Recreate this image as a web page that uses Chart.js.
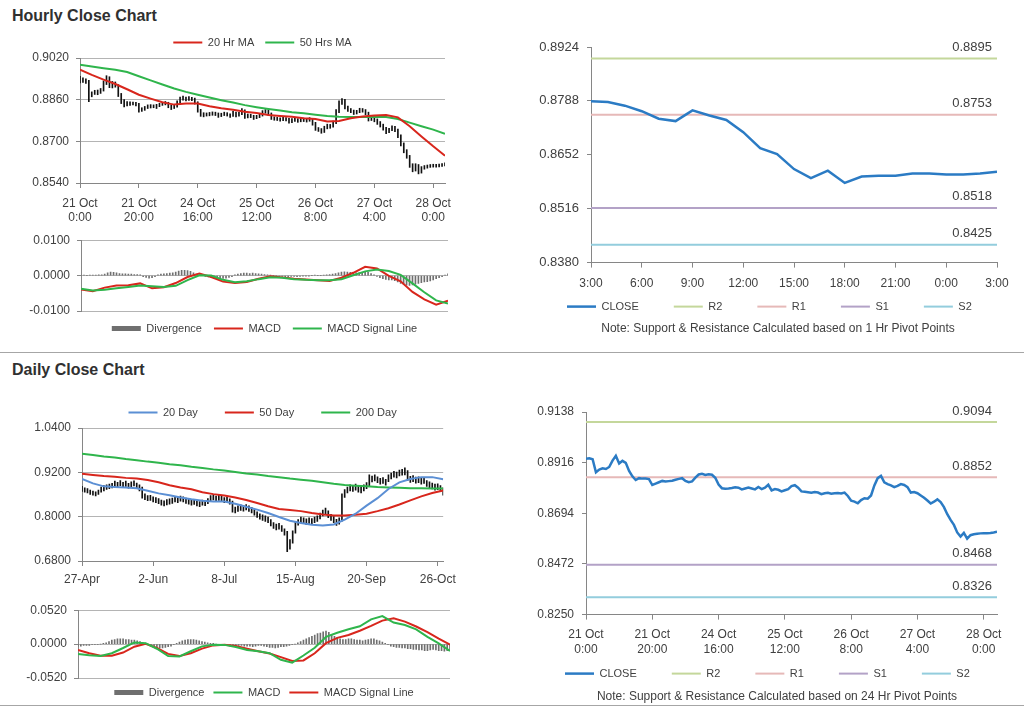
<!DOCTYPE html>
<html>
<head>
<meta charset="utf-8">
<script src="https://cdn.jsdelivr.net/npm/chart.js@4.4.0/dist/chart.umd.min.js"></script>
<style>
  html, body { margin: 0; padding: 0; background: #fff; }
  body { width: 1024px; height: 708px; position: relative; overflow: hidden; font-family: 'Liberation Sans', Arial, sans-serif; }
  .title { position: absolute; left: 12px; font-size: 16px; font-weight: bold; color: #303030; line-height: 20px; }
  .rule { position: absolute; left: 0; width: 1024px; height: 0; border-top: 1px solid #a6a6a6; }
  .panel { position: absolute; }
</style>
</head>
<body>
<div class="title" style="top:6px">Hourly Close Chart</div>
<div class="rule" style="top:352px"></div>
<div class="title" style="top:360px">Daily Close Chart</div>
<div class="rule" style="top:705px"></div>

<div class="panel" style="left:0;top:26px;width:462px;height:200px"><canvas id="hourlyPrice"></canvas></div>
<div class="panel" style="left:0;top:226px;width:462px;height:118px"><canvas id="hourlyMacd"></canvas></div>
<div class="panel" style="left:500px;top:30px;width:524px;height:333px"><canvas id="hourPivot"></canvas></div>
<div class="panel" style="left:0;top:380px;width:462px;height:209px"><canvas id="dailyPrice"></canvas></div>
<div class="panel" style="left:0;top:596px;width:462px;height:112px"><canvas id="dailyMacd"></canvas></div>
<div class="panel" style="left:500px;top:395px;width:524px;height:334px"><canvas id="dayPivot"></canvas></div>

<script>
// ---------- hourly data (21 Oct 0:00 .. 28 Oct 4:00) ----------
const hourlyTickIdx = [0, 20, 40, 60, 80, 100, 120];
const hourlyTickLabels = [['21 Oct', '0:00'], ['21 Oct', '20:00'], ['24 Oct', '16:00'], ['25 Oct', '12:00'],
  ['26 Oct', '8:00'], ['27 Oct', '4:00'], ['28 Oct', '0:00']];

const hourlyClose = [
  0.8933, 0.8935, 0.8931, 0.8874, 0.8886, 0.8891, 0.8888, 0.8897, 0.8925, 0.8946,
  0.8912, 0.8924, 0.8915, 0.8880, 0.8856, 0.8840, 0.8848, 0.8846, 0.8846, 0.8844,
  0.8818, 0.8824, 0.8830, 0.8836, 0.8833, 0.8835, 0.8837, 0.8841, 0.8845, 0.8848,
  0.8836, 0.8830, 0.8834, 0.8850, 0.8864, 0.8867, 0.8862, 0.8865, 0.8863, 0.8850,
  0.8820, 0.8804, 0.8802, 0.8803, 0.8805, 0.8808, 0.8806, 0.8799, 0.8803, 0.8807,
  0.8803, 0.8799, 0.8809, 0.8800, 0.8806, 0.8819, 0.8794, 0.8800, 0.8797, 0.8790,
  0.8795, 0.8800, 0.8813, 0.8817, 0.8806, 0.8790, 0.8788, 0.8786, 0.8784, 0.8787,
  0.8785, 0.8778, 0.8782, 0.8784, 0.8780, 0.8782, 0.8783, 0.8781, 0.8785, 0.8770,
  0.8749, 0.8745, 0.8738, 0.8752, 0.8760, 0.8758, 0.8772, 0.8816, 0.8848, 0.8858,
  0.8830, 0.8822, 0.8816, 0.8809, 0.8814, 0.8822, 0.8818, 0.8809, 0.8785, 0.8787,
  0.8782, 0.8772, 0.8762, 0.8750, 0.8737, 0.8745, 0.8755, 0.8743, 0.8721, 0.8690,
  0.8665, 0.8643, 0.8610, 0.8592, 0.8608, 0.8583, 0.8598, 0.8602, 0.8604, 0.8606,
  0.8607, 0.8607, 0.8608, 0.8610, 0.8613
];
const hourlyLow = [
  0.8924, 0.8926, 0.8922, 0.8852, 0.8871, 0.8880, 0.8879, 0.8884, 0.8893, 0.8918,
  0.8906, 0.8905, 0.8908, 0.8872, 0.8845, 0.8832, 0.8836, 0.8838, 0.8840, 0.8836,
  0.8812, 0.8815, 0.8819, 0.8826, 0.8828, 0.8829, 0.8826, 0.8833, 0.8838, 0.8840,
  0.8829, 0.8822, 0.8826, 0.8831, 0.8847, 0.8858, 0.8855, 0.8857, 0.8856, 0.8843,
  0.8812, 0.8796, 0.8794, 0.8797, 0.8798, 0.8800, 0.8799, 0.8792, 0.8795, 0.8799,
  0.8797, 0.8792, 0.8796, 0.8794, 0.8797, 0.8802, 0.8788, 0.8790, 0.8791, 0.8784,
  0.8787, 0.8791, 0.8797, 0.8808, 0.8800, 0.8784, 0.8781, 0.8780, 0.8777, 0.8779,
  0.8778, 0.8770, 0.8772, 0.8776, 0.8773, 0.8775, 0.8776, 0.8774, 0.8777, 0.8762,
  0.8742, 0.8738, 0.8731, 0.8734, 0.8748, 0.8750, 0.8754, 0.8768, 0.8810, 0.8842,
  0.8824, 0.8815, 0.8810, 0.8803, 0.8805, 0.8810, 0.8812, 0.8802, 0.8778, 0.8780,
  0.8775, 0.8765, 0.8755, 0.8743, 0.8729, 0.8733, 0.8741, 0.8737, 0.8714, 0.8682,
  0.8656, 0.8635, 0.8600, 0.8583, 0.8586, 0.8575, 0.8578, 0.8593, 0.8597, 0.8600,
  0.8601, 0.8601, 0.8602, 0.8604, 0.8606
];
const hourlyHigh = [
  0.8950, 0.8944, 0.8940, 0.8934, 0.8890, 0.8896, 0.8897, 0.8903, 0.8932, 0.8952,
  0.8948, 0.8930, 0.8928, 0.8918, 0.8884, 0.8860, 0.8853, 0.8852, 0.8851, 0.8850,
  0.8846, 0.8829, 0.8834, 0.8840, 0.8841, 0.8840, 0.8842, 0.8846, 0.8850, 0.8853,
  0.8850, 0.8839, 0.8840, 0.8856, 0.8870, 0.8874, 0.8870, 0.8872, 0.8869, 0.8866,
  0.8852, 0.8823, 0.8810, 0.8809, 0.8811, 0.8813, 0.8812, 0.8809, 0.8808, 0.8812,
  0.8810, 0.8806, 0.8815, 0.8812, 0.8811, 0.8826, 0.8821, 0.8805, 0.8804, 0.8800,
  0.8800, 0.8805, 0.8818, 0.8822, 0.8820, 0.8809, 0.8794, 0.8792, 0.8790, 0.8792,
  0.8791, 0.8788, 0.8787, 0.8789, 0.8787, 0.8788, 0.8789, 0.8787, 0.8791, 0.8788,
  0.8773, 0.8753, 0.8749, 0.8758, 0.8766, 0.8765, 0.8778, 0.8822, 0.8856, 0.8864,
  0.8861, 0.8835, 0.8826, 0.8820, 0.8819, 0.8827, 0.8826, 0.8822, 0.8812, 0.8793,
  0.8791, 0.8786, 0.8776, 0.8766, 0.8754, 0.8750, 0.8760, 0.8758, 0.8747, 0.8725,
  0.8694, 0.8668, 0.8646, 0.8614, 0.8614, 0.8611, 0.8603, 0.8607, 0.8609, 0.8611,
  0.8612, 0.8612, 0.8613, 0.8615, 0.8617
];

// lines below are read every LINE_STEP bars
const LINE_STEP = 4;
const hourlyMa20 = [0.8975, 0.8955, 0.8937, 0.8920, 0.8900, 0.8879, 0.8864, 0.8850, 0.8841, 0.8845, 0.8845,
  0.8835, 0.8827, 0.8821, 0.8814, 0.8809, 0.8801, 0.8797, 0.8794, 0.8789, 0.8786, 0.8776, 0.8778, 0.8789,
  0.8795, 0.8799, 0.8801, 0.8792, 0.8758, 0.8719, 0.8681, 0.8645];
const hourlyMa50 = [0.8994, 0.8987, 0.8981, 0.8975, 0.8966, 0.8950, 0.8934, 0.8918, 0.8903, 0.8890, 0.8879,
  0.8868, 0.8858, 0.8849, 0.8839, 0.8831, 0.8824, 0.8818, 0.8812, 0.8808, 0.8802, 0.8797, 0.8794, 0.8793,
  0.8793, 0.8793, 0.8793, 0.8786, 0.8772, 0.8758, 0.8745, 0.8729];
const hourlyMacd = [-0.0039, -0.0044, -0.0034, -0.0028, -0.0027, -0.0022, -0.0036, -0.0033, -0.0021, -0.0004,
  0.0006, -0.0004, -0.0017, -0.0021, -0.0018, -0.0009, -0.0002, -0.0005, -0.0009, -0.0011, -0.0013, -0.0015,
  -0.0006, 0.0008, 0.0025, 0.0020, -0.0001, -0.0016, -0.0046, -0.0067, -0.0082, -0.0071];
const hourlySignal = [-0.0037, -0.0042, -0.0040, -0.0036, -0.0032, -0.0028, -0.0030, -0.0032, -0.0029, -0.0013,
  0.0001, 0.0000, -0.0012, -0.0019, -0.0016, -0.0010, -0.0005, -0.0006, -0.0010, -0.0012, -0.0013, -0.0013,
  -0.0010, 0.0001, 0.0012, 0.0017, 0.0013, 0.0002, -0.0022, -0.0047, -0.0070, -0.0079];
const hourlyDivergence = [
  0.0001, 0.0001, 0.0000, 0.0001, 0.0001, 0.0001, 0.0002, 0.0002, 0.0004, 0.0008,
  0.0010, 0.0009, 0.0008, 0.0006, 0.0005, 0.0005, 0.0004, 0.0004, 0.0003, 0.0003,
  0.0002, -0.0003, -0.0005, -0.0007, -0.0006, -0.0003, 0.0002, 0.0004, 0.0005, 0.0006,
  0.0007, 0.0008, 0.0010, 0.0013, 0.0015, 0.0015, 0.0014, 0.0012, 0.0008, 0.0004,
  0.0002, 0.0001, -0.0002, -0.0004, -0.0006, -0.0008, -0.0010, -0.0009, -0.0008, -0.0007,
  -0.0005, -0.0003, 0.0002, 0.0004, 0.0006, 0.0007, 0.0007, 0.0006, 0.0007, 0.0006,
  0.0005, 0.0004, 0.0003, 0.0002, 0.0001, 0.0000, -0.0001, -0.0002, -0.0002, -0.0003,
  -0.0003, -0.0002, -0.0002, -0.0003, -0.0002, -0.0001, -0.0001, -0.0001, 0.0000, 0.0001,
  0.0000, 0.0000, 0.0001, 0.0002, 0.0003, 0.0004, 0.0006, 0.0008, 0.0010, 0.0011,
  0.0010, 0.0009, 0.0009, 0.0008, 0.0008, 0.0009, 0.0010, 0.0009, 0.0006, 0.0002,
  -0.0002, -0.0006, -0.0009, -0.0011, -0.0012, -0.0012, -0.0014, -0.0018, -0.0022, -0.0025,
  -0.0027, -0.0028, -0.0026, -0.0024, -0.0022, -0.0020, -0.0018, -0.0017, -0.0015, -0.0012,
  -0.0009, -0.0006, -0.0003, 0.0001, 0.0005
];
const hourlyPriceTicks = [0.8540, 0.8700, 0.8860, 0.9020];
const hourlyMacdTicks = [-0.0100, 0.0000, 0.0100];

// ---------- last 24 hours with 1 Hr pivots ----------
const lastDayTickIdx = [0, 3, 6, 9, 12, 15, 18, 21, 24];
const lastDayTickLabels = ['3:00', '6:00', '9:00', '12:00', '15:00', '18:00', '21:00', '0:00', '3:00'];
const lastDayClose = [0.8787, 0.8785, 0.8776, 0.8762, 0.8743, 0.8737, 0.8764, 0.8751, 0.8740, 0.8709,
  0.8669, 0.8654, 0.8616, 0.8593, 0.8612, 0.8581, 0.8597, 0.8599, 0.8599, 0.8605,
  0.8605, 0.8602, 0.8602, 0.8605, 0.8609];
const hourPivotTicks = [0.8380, 0.8516, 0.8652, 0.8788, 0.8924];
const hourPivotLevels = [0.8895, 0.8753, 0.8518, 0.8425];

// ---------- daily data (27 Apr .. 28 Oct) ----------
const dailyTickIdx = [0, 26, 52, 78, 104, 130];
const dailyTickLabels = ['27-Apr', '2-Jun', '8-Jul', '15-Aug', '20-Sep', '26-Oct'];
const dailyLow = [
  0.868, 0.866, 0.864, 0.860, 0.858, 0.856, 0.860, 0.866, 0.870, 0.874,
  0.876, 0.878, 0.882, 0.880, 0.884, 0.879, 0.882, 0.877, 0.881, 0.883,
  0.877, 0.870, 0.850, 0.846, 0.843, 0.844, 0.840, 0.838, 0.835, 0.831,
  0.829, 0.832, 0.834, 0.836, 0.840, 0.838, 0.842, 0.840, 0.836, 0.834,
  0.831, 0.833, 0.829, 0.827, 0.831, 0.830, 0.835, 0.843, 0.845, 0.842,
  0.844, 0.841, 0.838, 0.839, 0.834, 0.812, 0.810, 0.814, 0.817, 0.815,
  0.818, 0.814, 0.810, 0.804, 0.798, 0.793, 0.790, 0.787, 0.784, 0.775,
  0.768, 0.764, 0.766, 0.760, 0.750, 0.705, 0.712, 0.728, 0.755, 0.777,
  0.784, 0.782, 0.778, 0.782, 0.780, 0.784, 0.787, 0.794, 0.802, 0.807,
  0.797, 0.790, 0.784, 0.776, 0.780, 0.788, 0.852, 0.864, 0.870, 0.868,
  0.872, 0.866, 0.864, 0.870, 0.876, 0.882, 0.894, 0.897, 0.892, 0.888,
  0.890, 0.885, 0.895, 0.902, 0.907, 0.905, 0.910, 0.912, 0.913, 0.898,
  0.893, 0.895, 0.891, 0.892, 0.888, 0.890, 0.882, 0.878, 0.875, 0.872,
  0.873, 0.868, 0.858
];
const dailyHigh = [
  0.882, 0.878, 0.876, 0.872, 0.869, 0.867, 0.872, 0.880, 0.884, 0.886,
  0.888, 0.890, 0.896, 0.893, 0.898, 0.893, 0.896, 0.890, 0.894, 0.897,
  0.891, 0.886, 0.880, 0.862, 0.857, 0.858, 0.854, 0.852, 0.849, 0.845,
  0.843, 0.846, 0.848, 0.850, 0.854, 0.852, 0.856, 0.854, 0.850, 0.848,
  0.845, 0.847, 0.843, 0.841, 0.845, 0.844, 0.849, 0.857, 0.859, 0.856,
  0.858, 0.855, 0.852, 0.853, 0.848, 0.842, 0.826, 0.829, 0.832, 0.830,
  0.833, 0.829, 0.825, 0.819, 0.813, 0.808, 0.805, 0.802, 0.799, 0.792,
  0.784, 0.780, 0.782, 0.776, 0.767, 0.760, 0.738, 0.762, 0.786, 0.792,
  0.799, 0.797, 0.794, 0.797, 0.795, 0.799, 0.802, 0.810, 0.818, 0.823,
  0.816, 0.806, 0.800, 0.793, 0.797, 0.862, 0.873, 0.880, 0.886, 0.884,
  0.888, 0.882, 0.880, 0.886, 0.892, 0.913, 0.910, 0.913, 0.908, 0.904,
  0.906, 0.901, 0.913, 0.918, 0.923, 0.921, 0.926, 0.928, 0.932, 0.925,
  0.909, 0.911, 0.907, 0.908, 0.904, 0.906, 0.898, 0.894, 0.891, 0.888,
  0.889, 0.884, 0.878
];
const dailyMa20 = [0.902, 0.890, 0.882, 0.880, 0.879, 0.877, 0.870, 0.863, 0.858, 0.852, 0.847, 0.843,
  0.841, 0.841, 0.835, 0.827, 0.819, 0.810, 0.799, 0.789, 0.783, 0.778, 0.776, 0.779, 0.792, 0.808,
  0.830, 0.850, 0.875, 0.893, 0.902, 0.907, 0.907, 0.901];
const dailyMa50 = [0.916, 0.913, 0.910, 0.908, 0.905, 0.903, 0.899, 0.893, 0.885, 0.879, 0.874, 0.866,
  0.861, 0.857, 0.852, 0.845, 0.837, 0.828, 0.821, 0.818, 0.815, 0.810, 0.806, 0.803, 0.803, 0.805,
  0.808, 0.815, 0.823, 0.833, 0.844, 0.855, 0.864, 0.871];
const dailyMa200 = [0.970, 0.967, 0.963, 0.960, 0.956, 0.953, 0.949, 0.946, 0.942, 0.939, 0.935, 0.932,
  0.928, 0.925, 0.921, 0.917, 0.914, 0.910, 0.907, 0.903, 0.900, 0.897, 0.893, 0.889, 0.886, 0.884,
  0.882, 0.880, 0.879, 0.878, 0.877, 0.877, 0.876, 0.876];
const dailyMacd = [-0.0151, -0.0170, -0.0182, -0.0140, -0.0060, 0.0025, 0.0014, -0.0071, -0.0184, -0.0190,
  -0.0110, -0.0035, -0.0009, -0.0012, -0.0045, -0.0090, -0.0110, -0.0140, -0.0240, -0.0285, -0.0175,
  -0.0057, 0.0110, 0.0175, 0.0227, 0.0274, 0.0380, 0.0430, 0.0330, 0.0292, 0.0227, 0.0110, 0.0010, -0.0104];
const dailySignal = [-0.0090, -0.0140, -0.0180, -0.0178, -0.0130, -0.0040, 0.0005, -0.0060, -0.0150, -0.0184,
  -0.0140, -0.0070, -0.0020, -0.0009, -0.0028, -0.0070, -0.0110, -0.0145, -0.0200, -0.0260, -0.0250,
  -0.0140, 0.0014, 0.0095, 0.0140, 0.0205, 0.0280, 0.0360, 0.0395, 0.0345, 0.0270, 0.0185, 0.0085, -0.0009];
const dailyDivergence = [
  -0.003, -0.003, -0.002, -0.002, -0.002, -0.001, -0.001, -0.001, 0.000, 0.001,
  0.002, 0.004, 0.006, 0.007, 0.008, 0.008, 0.008, 0.007, 0.007, 0.006,
  0.006, 0.005, 0.004, 0.002, 0.001, -0.001, -0.003, -0.004, -0.005, -0.006,
  -0.006, -0.005, -0.004, -0.003, -0.001, 0.001, 0.003, 0.005, 0.006, 0.007,
  0.007, 0.007, 0.006, 0.005, 0.004, 0.003, 0.002, 0.001, 0.001, 0.000,
  -0.001, -0.001, -0.002, -0.002, -0.003, -0.003, -0.003, -0.002, -0.002, -0.003,
  -0.003, -0.003, -0.004, -0.003, -0.002, -0.002, -0.003, -0.004, -0.005, -0.005,
  -0.006, -0.005, -0.004, -0.004, -0.003, -0.002, -0.001, 0.000, 0.002, 0.004,
  0.006, 0.008, 0.010, 0.012, 0.014, 0.016, 0.017, 0.019, 0.020, 0.018,
  0.015, 0.012, 0.010, 0.008, 0.007, 0.007, 0.008, 0.008, 0.007, 0.006,
  0.006, 0.005, 0.006, 0.007, 0.008, 0.008, 0.006, 0.005, 0.003, 0.001,
  -0.001, -0.003, -0.004, -0.005, -0.005, -0.006, -0.006, -0.007, -0.007, -0.008,
  -0.008, -0.009, -0.009, -0.010, -0.010, -0.009, -0.008, -0.009, -0.010, -0.010,
  -0.011, -0.010, -0.009
];
const dailyPriceTicks = [0.6800, 0.8000, 0.9200, 1.0400];
const dailyMacdTicks = [-0.0520, 0.0000, 0.0520];
const dayPivotTicks = [0.8250, 0.8472, 0.8694, 0.8916, 0.9138];
const dayPivotLevels = [0.9094, 0.8852, 0.8468, 0.8326];

const pivotNames = ['R2', 'R1', 'S1', 'S2'];
const pivotColors = ['#c4d79b', '#e6b9b8', '#b3a2c7', '#93cddd'];

// ---------- helpers ----------
const RED = '#d8261c';
const GREEN = '#2fb54c';
const BLUE = '#5b8fd4';
const CLOSE_BLUE = '#2b7bc4';
const AXIS = '#868686';
const GRID = '#b4b4b4';
const TEXT = '#404040';

Chart.defaults.font.family = "'Liberation Sans', Arial, sans-serif";
Chart.defaults.color = TEXT;
Chart.defaults.animation = false;
Chart.defaults.events = [];
Chart.defaults.plugins.tooltip.enabled = false;

// value printed just above the right end of each pivot line
const levelLabels = {
  id: 'levelLabels',
  afterDatasetsDraw(chart) {
    const { ctx, chartArea, scales } = chart;
    ctx.save();
    ctx.font = "13px 'Liberation Sans', Arial, sans-serif";
    ctx.fillStyle = TEXT;
    ctx.textAlign = 'right';
    ctx.textBaseline = 'middle';
    chart.data.datasets.forEach(ds => {
      if (ds.level === undefined) return;
      ctx.fillText(ds.level.toFixed(4), chartArea.right - 5, scales.y.getPixelForValue(ds.level) - 11);
    });
    ctx.restore();
  }
};

// wide-spaced legend + note: pull them up under the axis labels
const bottomLift = {
  id: 'bottomLift',
  afterLayout(chart, args, opts) {
    [[chart.legend, opts.legend], [chart.titleBlock, opts.title]].forEach(([box, dy]) => {
      if (box && dy) { box.top += dy; box.bottom += dy; }
    });
  }
};

function indexAxis(max, tickIdx, tickLabels, height, padding, fontSize) {
  return {
    type: 'linear', min: 0, max, offset: false,
    display: !!tickLabels,
    afterBuildTicks: axis => { axis.ticks = tickIdx.map(v => ({ value: v })); },
    afterFit: axis => { axis.height = height; },
    grid: { drawOnChartArea: false, offset: false, tickLength: 5, tickColor: AXIS },
    border: { color: AXIS },
    ticks: { autoSkip: false, maxRotation: 0, padding, font: { size: fontSize }, color: TEXT,
      callback: (v, i) => tickLabels ? tickLabels[i] : '' }
  };
}

function valueAxis(ticks, width, fontSize, padding, gridLines) {
  return {
    min: ticks[0], max: ticks[ticks.length - 1], beginAtZero: false,
    afterBuildTicks: axis => { axis.ticks = ticks.map(v => ({ value: v })); },
    afterFit: axis => { axis.width = width; },
    grid: { drawOnChartArea: gridLines, color: GRID, tickColor: AXIS, tickLength: 4 },
    border: { color: AXIS },
    ticks: { padding, font: { size: fontSize }, color: TEXT, callback: v => v.toFixed(4) }
  };
}

function legendOpts(position, padding, extra) {
  return Object.assign({
    position, fullSize: false, align: 'center',
    labels: {
      usePointStyle: true, pointStyleWidth: 29, boxHeight: 5, padding,
      font: { size: 11 }, color: TEXT,
      filter: item => !!item.text,
      sort: (a, b) => a.datasetIndex - b.datasetIndex,
      generateLabels: chart => Chart.defaults.plugins.legend.labels.generateLabels(chart).map(item => {
        const ds = chart.data.datasets[item.datasetIndex];
        item.pointStyle = ds.type === 'bar' ? 'rect' : 'line';
        if (ds.type === 'bar') item.lineWidth = 0;
        return item;
      })
    }
  }, extra || {});
}

function candleSet(low, high) {
  return { type: 'bar', data: low.map((lo, i) => ({ x: i, y: [lo, high[i]] })),
    backgroundColor: '#111111', barThickness: 1, order: 5 };
}
function lineSet(label, values, color, step, width, order) {
  return { type: 'line', label, data: values.map((v, k) => ({ x: k * step, y: v })),
    borderColor: color, backgroundColor: color, borderWidth: width, pointRadius: 0, tension: 0, order };
}
function divergenceSet(values) {
  return { type: 'bar', label: 'Divergence', data: values.map((v, i) => ({ x: i, y: v })),
    backgroundColor: '#6f6f6f', barThickness: 1, order: 5 };
}
function levelSets(levels, max) {
  return levels.map((lvl, k) => ({ type: 'line', label: pivotNames[k], level: lvl,
    data: [{ x: 0, y: lvl }, { x: max, y: lvl }],
    borderColor: pivotColors[k], backgroundColor: pivotColors[k], borderWidth: 2, pointRadius: 0, order: 2 }));
}
const spacerAxis = { position: 'right', afterFit: a => { a.width = 27; },
  grid: { display: false }, ticks: { display: false }, border: { display: false } };

// ---------- hourly price ----------
new Chart(document.getElementById('hourlyPrice'), {
  type: 'line',
  data: { datasets: [
    lineSet('20 Hr MA', hourlyMa20, RED, LINE_STEP, 2, 0),
    lineSet('50 Hrs MA', hourlyMa50, GREEN, LINE_STEP, 2, 1),
    candleSet(hourlyLow, hourlyHigh)
  ] },
  options: {
    responsive: true, maintainAspectRatio: false,
    layout: { padding: { left: 0, right: 17, top: 0, bottom: 0 } },
    plugins: { legend: legendOpts('top', 11) },
    scales: {
      x: indexAxis(hourlyClose.length - 1, hourlyTickIdx, hourlyTickLabels, 43, 8, 12),
      y: valueAxis(hourlyPriceTicks, 80, 12, 7, true)
    }
  }
});

// ---------- hourly MACD ----------
new Chart(document.getElementById('hourlyMacd'), {
  type: 'line',
  data: { datasets: [
    divergenceSet(hourlyDivergence),
    lineSet('MACD', hourlyMacd, RED, LINE_STEP, 2, 1),
    lineSet('MACD Signal Line', hourlySignal, GREEN, LINE_STEP, 2, 0)
  ] },
  options: {
    responsive: true, maintainAspectRatio: false,
    layout: { padding: { left: 0, right: 14, top: 7, bottom: 0 } },
    plugins: { legend: legendOpts('bottom', 12) },
    scales: {
      x: indexAxis(hourlyDivergence.length - 1, hourlyTickIdx, null, 0, 0, 12),
      y: valueAxis(hourlyMacdTicks, 81, 12, 7, true)
    }
  }
});

// ---------- 1 Hr pivot chart ----------
new Chart(document.getElementById('hourPivot'), {
  type: 'line',
  data: { datasets: [
    lineSet('CLOSE', lastDayClose, CLOSE_BLUE, 1, 2.5, 0),
    ...levelSets(hourPivotLevels, lastDayClose.length - 1)
  ] },
  options: {
    responsive: true, maintainAspectRatio: false,
    layout: { padding: { left: 32, right: 0, top: 17, bottom: 0 } },
    plugins: {
      legend: legendOpts('bottom', 35, { fullSize: true, align: 'start' }),
      bottomLift: { legend: -26.5, title: -27 },
      title: { display: true, position: 'bottom', text: 'Note: Support & Resistance Calculated based on 1 Hr Pivot Points',
        font: { size: 12, weight: 'normal' }, color: TEXT, padding: 0 }
    },
    scales: {
      x: indexAxis(lastDayClose.length - 1, lastDayTickIdx, lastDayTickLabels, 30, 9, 12),
      y: valueAxis(hourPivotTicks, 59, 13, 8, false),
      y2: spacerAxis
    }
  },
  plugins: [levelLabels, bottomLift]
});

// ---------- daily price ----------
new Chart(document.getElementById('dailyPrice'), {
  type: 'line',
  data: { datasets: [
    lineSet('20 Day', dailyMa20, BLUE, LINE_STEP, 2, 0),
    lineSet('50 Day', dailyMa50, RED, LINE_STEP, 2, 1),
    lineSet('200 Day', dailyMa200, GREEN, LINE_STEP, 2, 2),
    candleSet(dailyLow, dailyHigh)
  ] },
  options: {
    responsive: true, maintainAspectRatio: false,
    layout: { padding: { left: 0, right: 12, top: 0, bottom: 0 } },
    plugins: { legend: legendOpts('top', 27) },
    scales: {
      x: indexAxis(dailyLow.length - 1, dailyTickIdx, dailyTickLabels, 28, 6, 12),
      y: valueAxis(dailyPriceTicks, 82, 12, 7, true)
    }
  }
});

// ---------- daily MACD ----------
new Chart(document.getElementById('dailyMacd'), {
  type: 'line',
  data: { datasets: [
    divergenceSet(dailyDivergence),
    lineSet('MACD', dailyMacd, GREEN, LINE_STEP, 2, 0),
    lineSet('MACD Signal Line', dailySignal, RED, LINE_STEP, 2, 1)
  ] },
  options: {
    responsive: true, maintainAspectRatio: false,
    layout: { padding: { left: 0, right: 12, top: 8, bottom: 0 } },
    plugins: { legend: legendOpts('bottom', 9) },
    scales: {
      x: indexAxis(dailyDivergence.length - 1, dailyTickIdx, null, 0, 0, 12),
      y: valueAxis(dailyMacdTicks, 78, 12, 7, true)
    }
  }
});

// ---------- 24 Hr pivot chart ----------
new Chart(document.getElementById('dayPivot'), {
  type: 'line',
  data: { datasets: [
    lineSet('CLOSE', hourlyClose, CLOSE_BLUE, 1, 2.5, 0),
    ...levelSets(dayPivotLevels, hourlyClose.length - 1)
  ] },
  options: {
    responsive: true, maintainAspectRatio: false,
    layout: { padding: { left: 30, right: 0, top: 17, bottom: 0 } },
    plugins: {
      legend: legendOpts('bottom', 35, { fullSize: true, align: 'start' }),
      bottomLift: { legend: -25.5, title: -25 },
      title: { display: true, position: 'bottom', text: 'Note: Support & Resistance Calculated based on 24 Hr Pivot Points',
        font: { size: 12, weight: 'normal' }, color: TEXT, padding: 0 }
    },
    scales: {
      x: indexAxis(hourlyClose.length - 1, hourlyTickIdx, hourlyTickLabels, 44, 8, 12),
      y: valueAxis(dayPivotTicks, 56, 12, 8, false),
      y2: spacerAxis
    }
  },
  plugins: [levelLabels, bottomLift]
});
</script>
</body>
</html>
